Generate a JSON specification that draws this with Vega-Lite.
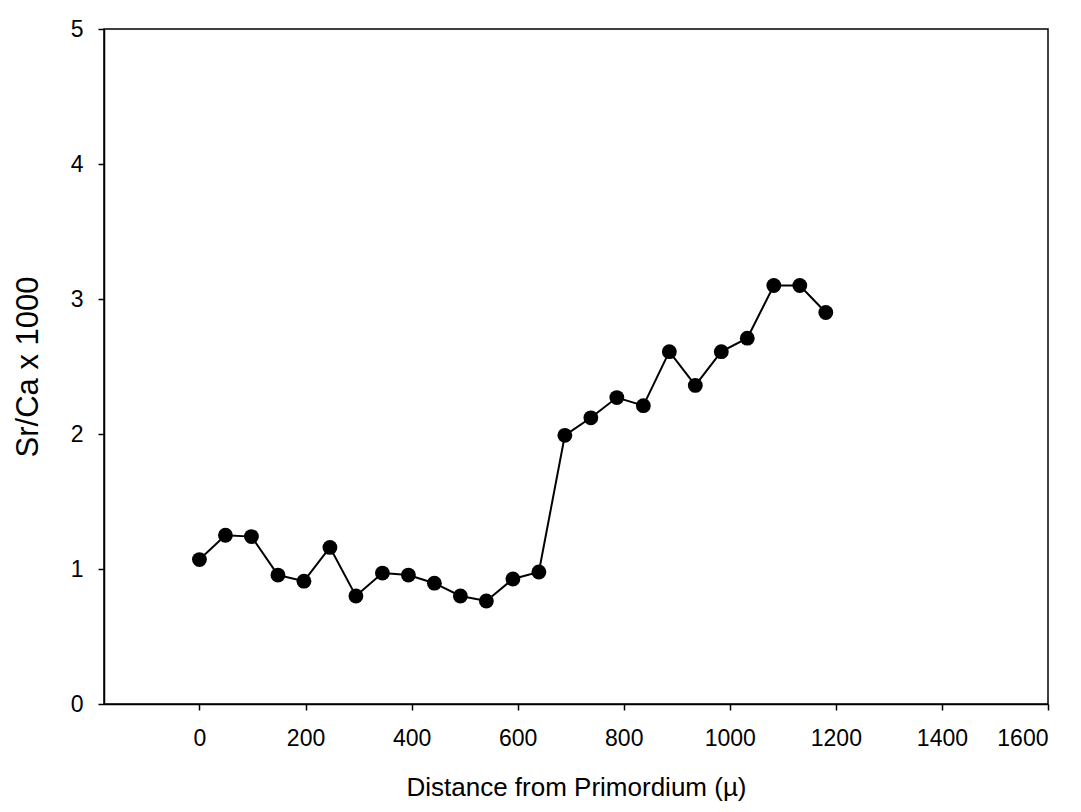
{
  "$schema": "https://vega.github.io/schema/vega-lite/v6.json",
  "autosize": "none",
  "padding": {"left": 104, "top": 29, "right": 33, "bottom": 108},
  "width": 944,
  "height": 675,
  "background": "white",
  "config": {
    "view": {"stroke": "black", "strokeWidth": 1.5},
    "font": "Liberation Sans",
    "axis": {
      "grid": false,
      "domainColor": "black",
      "domainWidth": 1.5,
      "tickColor": "black",
      "tickSize": 6,
      "tickWidth": 1.5,
      "labelColor": "black",
      "labelFont": "Liberation Sans",
      "labelFontSize": 23,
      "titleColor": "black",
      "titleFont": "Liberation Sans",
      "titleFontWeight": "normal"
    }
  },
  "data": {
    "values": [
      {"d": 0, "r": 1.07},
      {"d": 49, "r": 1.25},
      {"d": 98, "r": 1.24},
      {"d": 148, "r": 0.955},
      {"d": 197, "r": 0.91},
      {"d": 246, "r": 1.16},
      {"d": 295, "r": 0.80},
      {"d": 345, "r": 0.97},
      {"d": 394, "r": 0.955},
      {"d": 443, "r": 0.895},
      {"d": 492, "r": 0.80},
      {"d": 541, "r": 0.763},
      {"d": 591, "r": 0.926},
      {"d": 640, "r": 0.978},
      {"d": 689, "r": 1.99},
      {"d": 738, "r": 2.12},
      {"d": 787, "r": 2.27},
      {"d": 837, "r": 2.21},
      {"d": 886, "r": 2.61},
      {"d": 935, "r": 2.36},
      {"d": 984, "r": 2.61},
      {"d": 1033, "r": 2.71},
      {"d": 1083, "r": 3.10},
      {"d": 1132, "r": 3.10},
      {"d": 1181, "r": 2.90}
    ]
  },
  "encoding": {
    "x": {
      "field": "d",
      "type": "quantitative",
      "scale": {"domain": [-180, 1600], "nice": false, "zero": false},
      "axis": {
        "values": [0, 200, 400, 600, 800, 1000, 1200, 1400, 1600],
        "format": "d",
        "title": "Distance from Primordium (µ)",
        "titleFontSize": 26,
        "labelPadding": 17,
        "titlePadding": 24
      }
    },
    "y": {
      "field": "r",
      "type": "quantitative",
      "scale": {"domain": [0, 5], "nice": false},
      "axis": {
        "values": [0, 1, 2, 3, 4, 5],
        "format": "d",
        "title": "Sr/Ca x 1000",
        "titleFontSize": 31,
        "labelPadding": 15,
        "titlePadding": 26
      }
    }
  },
  "layer": [
    {"mark": {"type": "line", "color": "black", "strokeWidth": 2}},
    {"mark": {"type": "point", "filled": true, "shape": "circle", "color": "black", "size": 220, "opacity": 1}}
  ]
}
